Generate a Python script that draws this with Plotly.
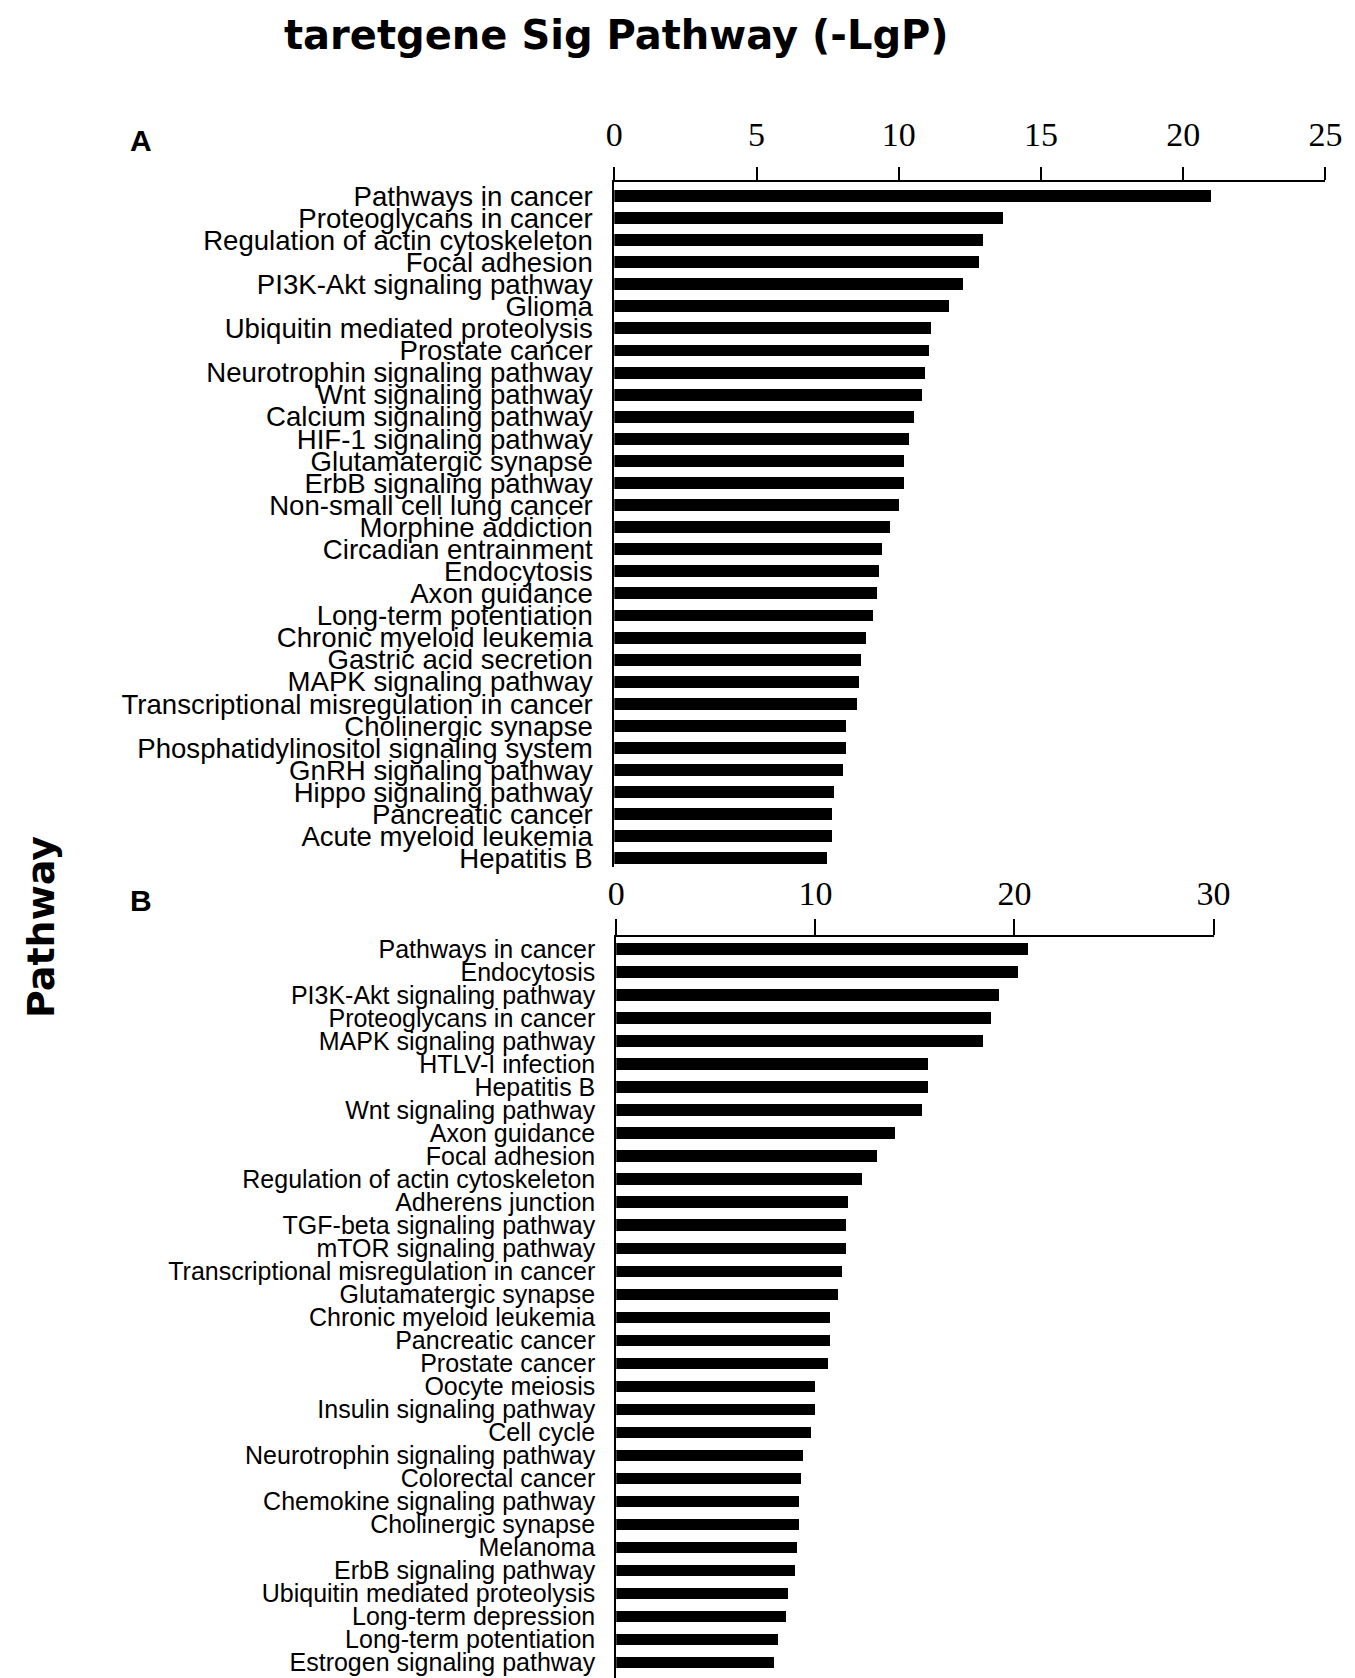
import plotly.graph_objects as go

# ---------------- data ----------------
pathways_a = [
    "Pathways in cancer", "Proteoglycans in cancer", "Regulation of actin cytoskeleton",
    "Focal adhesion", "PI3K-Akt signaling pathway", "Glioma", "Ubiquitin mediated proteolysis",
    "Prostate cancer", "Neurotrophin signaling pathway", "Wnt signaling pathway",
    "Calcium signaling pathway", "HIF-1 signaling pathway", "Glutamatergic synapse",
    "ErbB signaling pathway", "Non-small cell lung cancer", "Morphine addiction",
    "Circadian entrainment", "Endocytosis", "Axon guidance", "Long-term potentiation",
    "Chronic myeloid leukemia", "Gastric acid secretion", "MAPK signaling pathway",
    "Transcriptional misregulation in cancer", "Cholinergic synapse",
    "Phosphatidylinositol signaling system", "GnRH signaling pathway",
    "Hippo signaling pathway", "Pancreatic cancer", "Acute myeloid leukemia", "Hepatitis B",
]
values_a = [
    21.0, 13.69, 12.99, 12.83, 12.28, 11.78, 11.16, 11.07, 10.92, 10.84,
    10.54, 10.37, 10.21, 10.21, 10.03, 9.72, 9.43, 9.32, 9.25, 9.09,
    8.85, 8.70, 8.63, 8.55, 8.14, 8.14, 8.06, 7.75, 7.68, 7.68, 7.50,
]

pathways_b = [
    "Pathways in cancer", "Endocytosis", "PI3K-Akt signaling pathway", "Proteoglycans in cancer",
    "MAPK signaling pathway", "HTLV-I infection", "Hepatitis B", "Wnt signaling pathway",
    "Axon guidance", "Focal adhesion", "Regulation of actin cytoskeleton", "Adherens junction",
    "TGF-beta signaling pathway", "mTOR signaling pathway",
    "Transcriptional misregulation in cancer", "Glutamatergic synapse",
    "Chronic myeloid leukemia", "Pancreatic cancer", "Prostate cancer", "Oocyte meiosis",
    "Insulin signaling pathway", "Cell cycle", "Neurotrophin signaling pathway",
    "Colorectal cancer", "Chemokine signaling pathway", "Cholinergic synapse", "Melanoma",
    "ErbB signaling pathway", "Ubiquitin mediated proteolysis", "Long-term depression",
    "Long-term potentiation", "Estrogen signaling pathway",
]
values_b = [
    20.69, 20.18, 19.24, 18.83, 18.44, 15.65, 15.65, 15.35, 14.01, 13.09,
    12.36, 11.63, 11.54, 11.54, 11.35, 11.13, 10.74, 10.74, 10.64, 10.0,
    10.0, 9.79, 9.38, 9.28, 9.18, 9.18, 9.08, 8.98, 8.65, 8.55, 8.16, 7.95,
]

ticks_a = [0, 5, 10, 15, 20, 25]
ticks_b = [0, 10, 20, 30]

title_text = "taretgene Sig Pathway (-LgP)"
y_title = "Pathway"

# ---------------- figure ----------------
W, H = 1355, 1678
def px_x(p):
    return p / W
def px_y(p):
    return 1 - p / H

fig = go.Figure()
fig.add_trace(go.Bar(x=values_a, y=pathways_a, orientation="h",
                     marker=dict(color="black", line=dict(width=0)),
                     width=0.54, xaxis="x", yaxis="y", showlegend=False))
fig.add_trace(go.Bar(x=values_b, y=pathways_b, orientation="h",
                     marker=dict(color="black", line=dict(width=0)),
                     width=0.5, xaxis="x2", yaxis="y2", showlegend=False))

tickfont = dict(family="Liberation Serif", size=34, color="black")

# Panel A geometry (pixels)
a_top, a_bot = 173, 862
a_step = 22.2
a_first = 187
a_top_u = -(a_first - a_top) / a_step
a_bot_u = a_top_u + (a_bot - a_top) / a_step

# Panel B geometry (pixels)
b_top, b_bot = 932, 1678
b_step = 23.15
b_first = 944
b_top_u = -(b_first - b_top) / b_step
b_bot_u = b_top_u + (b_bot - b_top) / b_step

fig.update_layout(
    width=W, height=H,
    margin=dict(l=0, r=0, t=0, b=0),
    paper_bgcolor="white", plot_bgcolor="white",
    bargap=0,
    xaxis=dict(domain=[px_x(609), px_x(1334)], range=[0, 25], side="top", anchor="y",
               tickvals=ticks_a, ticktext=[str(t) for t in ticks_a],
               showline=True, linecolor="black", linewidth=2,
               ticks="outside", ticklen=13, tickwidth=2, tickcolor="black",
               ticklabelstandoff=7,
               showgrid=False, zeroline=False, tickfont=tickfont),
    yaxis=dict(domain=[px_y(a_bot), px_y(a_top)], anchor="x",
               type="category", categoryorder="array", categoryarray=pathways_a,
               range=[a_bot_u, a_top_u], tickmode="linear", tick0=0, dtick=1,
               showline=True, linecolor="black", linewidth=2,
               ticks="", showgrid=False, zeroline=False, ticklabelstandoff=14,
               tickfont=dict(family="Liberation Sans", size=27.6, color="black")),
    xaxis2=dict(domain=[px_x(611), px_x(1220)], range=[0, 30], side="top", anchor="y2",
                tickvals=ticks_b, ticktext=[str(t) for t in ticks_b],
                showline=True, linecolor="black", linewidth=2,
                ticks="outside", ticklen=16, tickwidth=2, tickcolor="black",
                showgrid=False, zeroline=False, tickfont=tickfont),
    yaxis2=dict(domain=[px_y(b_bot), px_y(b_top)], anchor="x2",
                type="category", categoryorder="array", categoryarray=pathways_b,
                range=[b_bot_u, b_top_u], tickmode="linear", tick0=0, dtick=1,
                showline=True, linecolor="black", linewidth=2,
                ticks="", showgrid=False, zeroline=False, ticklabelstandoff=14,
                tickfont=dict(family="Liberation Sans", size=25, color="black")),
)

fig.add_annotation(text="<b>" + title_text + "</b>", xref="paper", yref="paper",
                   x=px_x(611), y=px_y(25), xanchor="center", yanchor="middle",
                   showarrow=False,
                   font=dict(family="DejaVu Sans", size=40, color="black"))
fig.add_annotation(text="<b>A</b>", xref="paper", yref="paper",
                   x=px_x(126), y=px_y(131), xanchor="center", yanchor="middle",
                   showarrow=False, font=dict(family="Liberation Sans", size=30, color="black"))
fig.add_annotation(text="<b>B</b>", xref="paper", yref="paper",
                   x=px_x(126), y=px_y(895), xanchor="center", yanchor="middle",
                   showarrow=False, font=dict(family="Liberation Sans", size=30, color="black"))
fig.add_annotation(text="<b>" + y_title + "</b>", xref="paper", yref="paper",
                   x=0, y=px_y(922), xanchor="left", yanchor="middle",
                   textangle=-90, showarrow=False,
                   font=dict(family="DejaVu Sans", size=38, color="black"))

fig.write_html("out.html")
